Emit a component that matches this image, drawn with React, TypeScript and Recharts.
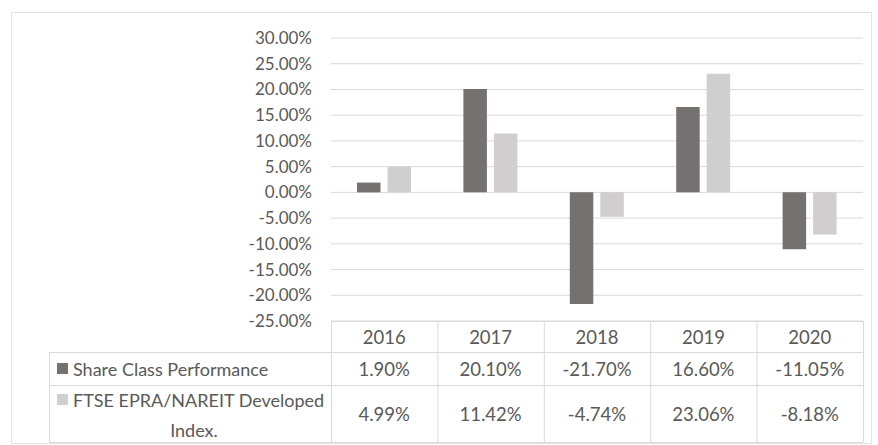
import { BarChart, Bar, XAxis, YAxis, CartesianGrid } from 'recharts';

const years = ['2016', '2017', '2018', '2019', '2020'];
const shareClass = [1.9, 20.1, -21.7, 16.6, -11.05];
const ftseIndex = [4.99, 11.42, -4.74, 23.06, -8.18];
const yTicks = [-25, -20, -15, -10, -5, 0, 5, 10, 15, 20, 25, 30];

const seriesNames = ['Share Class Performance', 'FTSE EPRA/NAREIT Developed Index.'];

const data = years.map((year, i) => ({
    year,
    share: shareClass[i],
    ftse: ftseIndex[i],
}));

const W = 878;
const H = 445;
const plotLeft = 331;
const plotRight = 863;
const plotTop = 38;
const plotBottom = 321;
const colW = (plotRight - plotLeft) / years.length;

const DARK = '#767171';
const LIGHT = '#d0cece';
const TEXT = '#595959';
const LINE = '#d9d9d9';
const FONT = 'Lato, "Open Sans", sans-serif';

const fmt = (v: number) => `${v.toFixed(2)}%`;

const DataTable = () => {
    const row1Top = 352;
    const row2Top = 385;
    const tableBottom = 442;
    const legendLeft = 49;
    return (
        <svg width={W} height={H} style={{ position: 'absolute', left: 0, top: 0, pointerEvents: 'none' }}>
            {/* outer frame */}
            <rect x={11.5} y={12.5} width={860} height={431} fill="none" stroke="#e3e3e3" strokeWidth={1} />

            {/* table lines */}
            <g stroke={LINE} strokeWidth={1}>
                <line x1={plotLeft} y1={plotBottom + 0.5} x2={plotRight} y2={plotBottom + 0.5} />
                <line x1={legendLeft} y1={row1Top + 0.5} x2={plotRight} y2={row1Top + 0.5} />
                <line x1={legendLeft} y1={row2Top + 0.5} x2={plotRight} y2={row2Top + 0.5} />
                <line x1={legendLeft} y1={tableBottom + 0.5} x2={plotRight} y2={tableBottom + 0.5} />
                <line x1={legendLeft + 0.5} y1={row1Top} x2={legendLeft + 0.5} y2={tableBottom} />
                {years.map((_, i) => (
                    <line
                        key={i}
                        x1={plotLeft + i * colW + 0.5}
                        y1={plotBottom}
                        x2={plotLeft + i * colW + 0.5}
                        y2={tableBottom}
                    />
                ))}
                <line x1={plotRight + 0.5} y1={plotBottom} x2={plotRight + 0.5} y2={tableBottom} />
            </g>

            <g fontFamily={FONT} fontSize={18.5} fill={TEXT} textAnchor="middle">
                {years.map((y, i) => (
                    <text key={y} x={plotLeft + (i + 0.5) * colW} y={337} dominantBaseline="central">
                        {y}
                    </text>
                ))}
                {shareClass.map((v, i) => (
                    <text key={i} x={plotLeft + (i + 0.5) * colW} y={369} dominantBaseline="central">
                        {fmt(v)}
                    </text>
                ))}
                {ftseIndex.map((v, i) => (
                    <text key={i} x={plotLeft + (i + 0.5) * colW} y={414} dominantBaseline="central">
                        {fmt(v)}
                    </text>
                ))}
            </g>

            {/* legend keys */}
            <rect x={57} y={363} width={11} height={11} fill={DARK} />
            <rect x={57} y={394} width={11} height={11} fill={LIGHT} />
            <g fontFamily={FONT} fontSize={18} fill={TEXT}>
                <text x={73} y={369} dominantBaseline="central">{seriesNames[0]}</text>
                <text x={73} y={400} dominantBaseline="central">FTSE EPRA/NAREIT Developed</text>
                <text x={194} y={430} dominantBaseline="central" textAnchor="middle">Index.</text>
            </g>
        </svg>
    );
};

export default function App() {
    return (
        <div style={{ position: 'absolute', left: 0, top: 0, width: W, height: H, background: '#fff' }}>
            <BarChart
                width={W}
                height={H}
                data={data}
                margin={{ top: plotTop, right: W - plotRight, bottom: H - plotBottom, left: 0 }}
                barGap={7}
                barSize={23.5}
            >
                <CartesianGrid stroke={LINE} vertical={false} />
                <XAxis dataKey="year" hide />
                <YAxis
                    width={plotLeft}
                    domain={[-25, 30]}
                    ticks={yTicks}
                    interval={0}
                    axisLine={false}
                    tickLine={false}
                    tickSize={0}
                    tickMargin={19}
                    tickFormatter={fmt}
                    tick={{ fill: TEXT, fontSize: 17, fontFamily: FONT }}
                />
                <Bar dataKey="share" name={seriesNames[0]} fill={DARK} isAnimationActive={false} />
                <Bar dataKey="ftse" name={seriesNames[1]} fill={LIGHT} isAnimationActive={false} />
            </BarChart>
            <DataTable />
        </div>
    );
}
